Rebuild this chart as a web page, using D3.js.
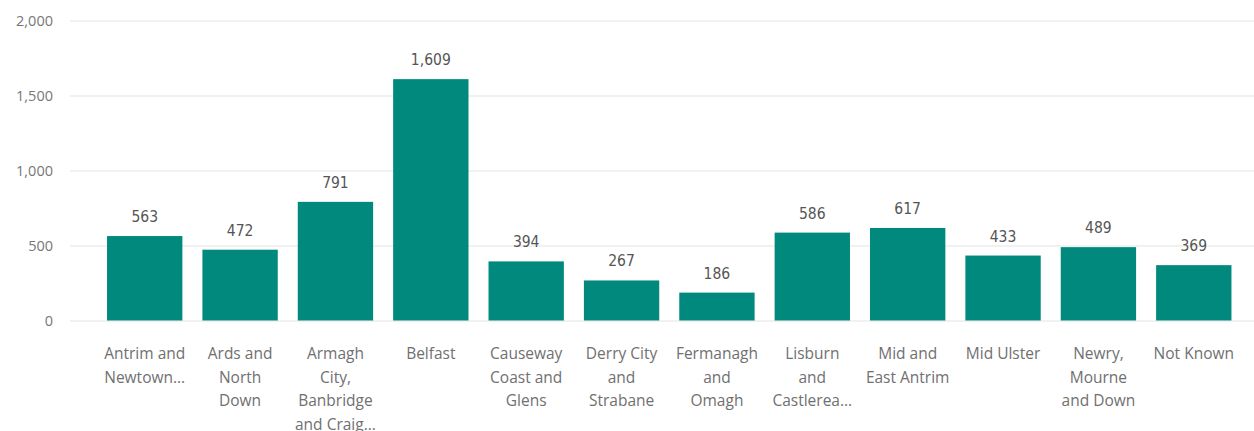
<!DOCTYPE html>
<html>
<head>
<meta charset="utf-8">
<script src="https://cdn.jsdelivr.net/npm/d3@7"></script>
<style>
  body { margin: 0; background: #fff; }
  svg { display: block; }
</style>
</head>
<body>
<div id="chart"></div>
<script>
// values
const councils = ["Antrim and Newtownabbey", "Ards and North Down", "Armagh City, Banbridge and Craigavon",
  "Belfast", "Causeway Coast and Glens", "Derry City and Strabane", "Fermanagh and Omagh",
  "Lisburn and Castlereagh", "Mid and East Antrim", "Mid Ulster", "Newry, Mourne and Down", "Not Known"];
const counts = [563, 472, 791, 1609, 394, 267, 186, 586, 617, 433, 489, 369];
// wrapped / truncated axis labels as displayed
const tickLines = [
  ["Antrim and", "Newtown..."],
  ["Ards and", "North", "Down"],
  ["Armagh", "City,", "Banbridge", "and Craig..."],
  ["Belfast"],
  ["Causeway", "Coast and", "Glens"],
  ["Derry City", "and", "Strabane"],
  ["Fermanagh", "and", "Omagh"],
  ["Lisburn", "and", "Castlerea..."],
  ["Mid and", "East Antrim"],
  ["Mid Ulster"],
  ["Newry,", "Mourne", "and Down"],
  ["Not Known"]
];
const yTicks = [0, 500, 1000, 1500, 2000];

const width = 1254, height = 431;
const svg = d3.select('#chart').append('svg')
  .attr('width', width)
  .attr('height', height);

const x = d3.scaleBand()
  .domain(councils)
  .range([97.5, 1241])
  .paddingInner(0.21)
  .paddingOuter(0.1);

const y = d3.scaleLinear()
  .domain([0, 2000])
  .range([320.5, 20.5]);

const fmt = d3.format(",");

// gridlines + y labels
const yAxis = d3.axisLeft(y)
  .tickValues(yTicks)
  .tickSize(-(1254 - 70))
  .tickFormat(fmt);

const gy = svg.append('g')
  .attr('transform', 'translate(70,0)')
  .call(yAxis);
gy.select('.domain').remove();
gy.selectAll('.tick line')
  .attr('stroke', '#ececec')
  .attr('stroke-width', 1.5);
gy.selectAll('.tick text')
  .attr('x', -17)
  .attr('fill', '#777')
  .style('font-family', '"Open Sans", "Noto Sans", sans-serif')
  .style('font-size', '14.5px');

// bars
svg.append('g').selectAll('rect')
  .data(counts)
  .join('rect')
  .attr('x', (d, i) => x(councils[i]))
  .attr('y', d => y(d))
  .attr('width', x.bandwidth())
  .attr('height', d => y(0) - y(d))
  .attr('fill', '#01897d');

// value labels
svg.append('g').selectAll('text')
  .data(counts)
  .join('text')
  .attr('x', (d, i) => x(councils[i]) + x.bandwidth() / 2)
  .attr('y', d => y(d) - 14)
  .attr('text-anchor', 'middle')
  .attr('fill', '#555')
  .style('font-family', '"DejaVu Sans Condensed", "DejaVu Sans", sans-serif')
  .style('font-size', '15.5px')
  .text(d => fmt(d));

// category labels
const gx = svg.append('g');
tickLines.forEach((lines, i) => {
  const t = gx.append('text')
    .attr('x', x(councils[i]) + x.bandwidth() / 2)
    .attr('y', 359)
    .attr('text-anchor', 'middle')
    .attr('fill', '#707070')
    .style('font-family', '"Open Sans", "Noto Sans", sans-serif')
    .style('font-size', '15.5px');
  lines.forEach((l, j) => {
    t.append('tspan')
      .attr('x', x(councils[i]) + x.bandwidth() / 2)
      .attr('dy', j === 0 ? 0 : 23.5)
      .text(l);
  });
});
</script>
</body>
</html>
